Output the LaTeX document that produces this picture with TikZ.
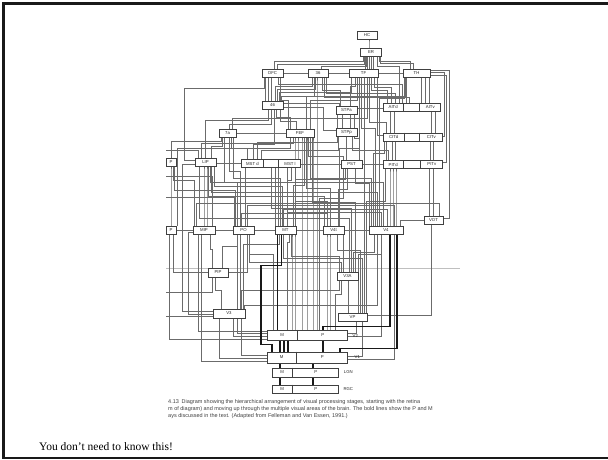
\documentclass[tikz,border=0pt]{standalone}
\usepackage{fontspec}
\setmainfont{Liberation Serif}
\setsansfont{Liberation Sans}
\usetikzlibrary{calc}
\pgfdeclarelayer{bg}
\pgfsetlayers{bg,main}
\newcommand\lnk[5]{\draw[cn] ($(#1.north)+(#3,0)$) |- ($(#2.south)+(#4,#5)$) -- ($(#2.south)+(#4,0)$);}
\newcommand\tbar[5]{\draw[cn] ($(#1.north)+(#3,0)$) |- ($(#2.north)+(#4,-#5)$) -- ($(#2.north)+(#4,0)$);}
\tikzset{
 box/.style={draw=black!75, fill=white, line width=0.6pt, minimum height=8pt, inner sep=0pt, font=\fontsize{4.3}{4.3}\selectfont\sffamily, text=black!85},
 lbl/.style={inner sep=0pt, font=\fontsize{4.3}{4.3}\selectfont\sffamily, text=black!85},
 cn/.style={draw=black!58, line width=0.55pt},
 bd/.style={draw=black!90, line width=1.4pt},
 dv/.style={draw=black!75, line width=0.6pt},
 captxt/.style={anchor=west, inner sep=0pt, font=\fontsize{5.5}{5.5}\selectfont\sffamily, text=black!75},
 frm/.style={draw=black!90, line width=3pt},
 scanline/.style={draw=black!25, line width=0.8pt}
}
\begin{document}
\begin{tikzpicture}[x=1pt,y=-1pt]
\useasboundingbox (0,0) rectangle (608,459);
\draw[frm] (608,3.5) -- (3.5,3.5) -- (3.5,458);
\draw[draw=black!90, line width=2.5pt] (2,458) -- (608,458);

% ---------- nodes ----------
\node[box,minimum width=20pt] (HC) at (367,35) {HC};
\node[box,minimum width=21pt] (ER) at (371,52) {ER};
\node[box,minimum width=21pt] (OFC) at (272.5,73.5) {OFC};
\node[box,minimum width=20pt] (A36) at (318,73.5) {36};
\node[box,minimum width=29pt] (TF) at (363.5,73.5) {TF};
\node[box,minimum width=27pt] (TH) at (416.5,73.5) {TH};
\node[box,minimum width=21pt] (A46) at (272.5,105) {46};
\node[box,minimum width=21pt] (STPa) at (346.5,110) {STPa};
\node[box,minimum width=57pt] (AIT) at (411.5,107) {};
\node[box,minimum width=17pt] (A7a) at (227.5,133.5) {7a};
\node[box,minimum width=28pt] (FEF) at (300,133.5) {FEF};
\node[box,minimum width=21pt] (STPp) at (346.5,132) {STPp};
\node[box,minimum width=59pt] (CIT) at (412.5,137) {};
\node[box,minimum width=10pt] (VIP) at (171,162) {P};
\node[box,minimum width=21pt] (LIP) at (205.5,162) {LIP};
\node[box,minimum width=59pt] (MST) at (271,163.5) {};
\node[box,minimum width=21pt] (PST) at (351.5,164.5) {PST};
\node[box,minimum width=59pt] (PIT) at (412.5,164.5) {};
\node[box,minimum width=19pt] (VOT) at (433.5,220) {VOT};
\node[box,minimum width=10pt] (DP) at (171,230) {P};
\node[box,minimum width=22pt] (MIP) at (204,230) {MIP};
\node[box,minimum width=21pt] (PO) at (243.5,230) {PO};
\node[box,minimum width=21pt] (MT) at (285.5,230) {MT};
\node[box,minimum width=21pt] (V4t) at (333.5,230) {V4t};
\node[box,minimum width=34pt] (V4) at (386,230) {V4};
\node[box,minimum width=20pt,minimum height=9pt] (PIP) at (218,272.5) {PIP};
\node[box,minimum width=21pt] (V3A) at (347.5,276) {V3A};
\node[box,minimum width=32pt,minimum height=9pt] (V3) at (229,313.5) {V3};
\node[box,minimum width=29pt] (VP) at (352.5,317) {VP};
\node[box,minimum width=80pt,minimum height=10pt] (V2) at (307,335) {};
\node[box,minimum width=80pt,minimum height=11pt] (V1) at (307,357.5) {};
\node[box,minimum width=66pt,minimum height=9pt] (LGN) at (305,372.5) {};
\node[box,minimum width=66pt,minimum height=8pt] (RGC) at (305,389) {};

% dividers
\draw[dv] ($(MST.north west)+(22.5,0)$) -- ($(MST.south west)+(22.5,0)$);
\draw[dv] ($(MST.north west)+(37.5,0)$) -- ($(MST.south west)+(37.5,0)$);
\draw[dv] ($(AIT.north west)+(21,0)$) -- ($(AIT.south west)+(21,0)$);
\draw[dv] ($(AIT.north west)+(37,0)$) -- ($(AIT.south west)+(37,0)$);
\draw[dv] ($(CIT.north west)+(22,0)$) -- ($(CIT.south west)+(22,0)$);
\draw[dv] ($(CIT.north west)+(37,0)$) -- ($(CIT.south west)+(37,0)$);
\draw[dv] ($(PIT.north west)+(21,0)$) -- ($(PIT.south west)+(21,0)$);
\draw[dv] ($(PIT.north west)+(38,0)$) -- ($(PIT.south west)+(38,0)$);
\draw[dv] ($(V2.north west)+(31,0)$) -- ($(V2.south west)+(31,0)$);
\draw[dv] ($(V1.north west)+(30,0)$) -- ($(V1.south west)+(30,0)$);
\draw[dv] ($(LGN.north west)+(21,0)$) -- ($(LGN.south west)+(21,0)$);
\draw[dv] ($(RGC.north west)+(21,0)$) -- ($(RGC.south west)+(21,0)$);

% labels in split boxes
\node[lbl] (MSTd) at ($(MST.west)+(11.25,0)$) {MST d};
\node[lbl] (MSTl) at ($(MST.east)+(-10.75,0)$) {MST l};
\node[lbl] (AITd) at ($(AIT.west)+(10.5,0)$) {AITd};
\node[lbl] (AITv) at ($(AIT.east)+(-10,0)$) {AITv};
\node[lbl] (CITd) at ($(CIT.west)+(11,0)$) {CITd};
\node[lbl] (CITv) at ($(CIT.east)+(-11,0)$) {CITv};
\node[lbl] (PITd) at ($(PIT.west)+(10.5,0)$) {PITd};
\node[lbl] (PITv) at ($(PIT.east)+(-10.5,0)$) {PITv};
\node[lbl] (V2m) at ($(V2.west)+(15.5,0)$) {M};
\node[lbl] (V2p) at ($(V2.east)+(-24.5,0)$) {P};
\node[lbl] (V2l) at ($(V2.east)+(8,1)$) {V2};
\node[lbl] (V1m) at ($(V1.west)+(15,0)$) {M};
\node[lbl] (V1p) at ($(V1.east)+(-25,0)$) {P};
\node[lbl] (V1l) at ($(V1.east)+(10,0)$) {V1};
\node[lbl] (LGNm) at ($(LGN.west)+(10.5,0)$) {M};
\node[lbl] (LGNp) at ($(LGN.east)+(-22.5,0)$) {P};
\node[lbl] (LGNl) at ($(LGN.east)+(10,0)$) {LGN};
\node[lbl] (RGCm) at ($(RGC.west)+(10.5,0)$) {M};
\node[lbl] (RGCp) at ($(RGC.east)+(-22.5,0)$) {P};
\node[lbl] (RGCl) at ($(RGC.east)+(10,0)$) {RGC};

% left-edge free ends
\coordinate (L1) at (166,176);
\coordinate (L2) at (166,292);
\coordinate (L3) at (166,316);
\coordinate (L4) at (166,197);
\coordinate (L5) at (166,150);
\coordinate (S1) at (166,268.5);
\coordinate (S2) at (460,268.5);

% caption and note
\node[captxt] (c1) at (168,402) {4.13\enspace Diagram showing the hierarchical arrangement of visual processing stages, starting with the retina};
\node[captxt] (c2) at (168,409) {m of diagram) and moving up through the multiple visual areas of the brain. The bold lines show the P and M};
\node[captxt] (c3) at (168,416) {ays discussed in the text. (Adapted from Felleman and Van Essen, 1991.)};
\node[anchor=base west, inner sep=0pt, font=\fontsize{11.5}{12}\selectfont] (note) at (39,450) {You don’t need to know this!};

\begin{pgfonlayer}{bg}
\draw[scanline] (S1) -- (S2);
% top
\lnk{ER}{HC}{-2}{2}{4}
\lnk{TF}{ER}{2}{-5.5}{3}\lnk{TF}{ER}{4}{-3.5}{3}\lnk{TF}{ER}{6}{-1.5}{3}\lnk{TF}{ER}{8}{0.5}{3}\lnk{TF}{ER}{10}{2.5}{3}
\lnk{OFC}{ER}{2}{-8}{5}
\lnk{OFC}{ER}{5}{-6.5}{8}
\lnk{A36}{ER}{3}{-4.5}{10}
\lnk{TH}{ER}{-6}{8}{5}
\lnk{TH}{ER}{-3}{9.5}{7}
\draw[cn] (OFC.east) -- (A36.west);
\draw[cn] (A36.east) -- (TF.west);
\draw[cn] (TF.east) -- (TH.west);
% 46
\lnk{A46}{OFC}{-7}{-7}{3}\lnk{A46}{OFC}{-4}{-4}{3}\lnk{A46}{OFC}{-1}{-1}{3}
\lnk{A46}{A36}{3}{-6}{8}
\lnk{A46}{A36}{5}{-3}{11}
\lnk{A46}{TF}{7}{-12}{14}
\lnk{A46}{TH}{9}{-11}{18}
% LIP, 7a, left
\lnk{LIP}{A46}{0}{-4}{11}
\lnk{A7a}{A46}{2}{-1}{15}
\lnk{A7a}{TF}{5}{4}{40}
\lnk{LIP}{A7a}{6}{-5}{8}
\lnk{VIP}{A7a}{0}{-6}{3}
\draw[cn] ($(LIP.west)+(0,-2)$) -- ++(-10,0) |- ($(OFC.south)+(-8,10)$) -- ($(OFC.south)+(-8,0)$);
\lnk{DP}{FEF}{6}{-10}{10}
\lnk{LIP}{FEF}{-4}{-7}{5}
% MST
\lnk{MST}{A7a}{-24}{4}{10}
\lnk{MST}{FEF}{24}{-5}{5}
\lnk{MST}{FEF}{27}{-2}{5}
\lnk{MST}{STPp}{-10}{-8}{14}
\lnk{MST}{A46}{-18}{2}{35}
\lnk{MST}{STPa}{-14}{-9}{28}
\draw[cn] ($(LIP.east)+(0,1.5)$) -- (MST.west);
\draw[cn] ($(MST.east)+(0,1)$) -- (PST.west);
\draw[cn] (PST.east) -- (PIT.west);
% PST
\lnk{PST}{STPp}{-5}{0}{10}
\lnk{PST}{FEF}{-8}{8}{18}
\lnk{PST}{STPa}{8}{8}{24}
% PIT CIT AIT
\lnk{PIT}{CIT}{-20}{-20}{5}\lnk{PIT}{CIT}{-17}{-17}{5}\lnk{PIT}{CIT}{18}{18}{5}\lnk{PIT}{CIT}{21}{21}{5}
\lnk{PIT}{TF}{-26}{6}{44}
\lnk{PIT}{STPp}{-24}{6}{14}
\draw[cn] ($(PIT.east)+(0,-2)$) -- ++(4,0) |- ($(TH.east)+(0,2)$);
\draw[cn] ($(CIT.east)+(0,-1)$) -- ++(2,0) |- ($(TH.east)+(0,-1)$);
\draw[cn] ($(VOT.east)+(0,-2)$) -- ++(6,0) |- ($(TH.east)+(0,-3)$);
\lnk{CIT}{AIT}{-22}{-21}{5}\lnk{CIT}{AIT}{-18}{-17}{5}\lnk{CIT}{AIT}{19}{20}{5}\lnk{CIT}{AIT}{23}{24}{5}
\draw[cn] ($(CIT.west)+(0,-2)$) -| ($(TF.south)+(14,0)$);
\lnk{AIT}{TF}{-24}{8}{12}
\lnk{AIT}{TF}{-20}{11}{9}
\lnk{AIT}{TH}{-5}{-10}{5}
\lnk{AIT}{TH}{10}{5}{5}\lnk{AIT}{TH}{14}{9}{5}\lnk{AIT}{TH}{18}{13}{5}
\lnk{AIT}{A36}{-16}{8}{15}
\lnk{AIT}{A36}{-2}{6}{19}
\lnk{AIT}{OFC}{-9}{6}{6}
\lnk{AIT}{ER}{-12}{6}{10}
\draw[cn] ($(STPa.east)+(0,-2)$) -| ($(AIT.south)+(-25,0)$);
% STPa STPp
\lnk{STPa}{A36}{-6}{4}{12}
\lnk{STPa}{TF}{4}{-8}{8}
\draw[cn] ($(A46.east)+(0,-2)$) -| ($(STPa.north)+(-7,0)$);
\lnk{STPp}{STPa}{-4}{-4}{5}\lnk{STPp}{STPa}{4}{4}{5}
\draw[cn] ($(STPp.west)+(0,-2)$) -- ++(-12,0) |- ($(A46.east)+(0,2)$);
% FEF
\lnk{FEF}{A46}{-10}{4}{8}
\lnk{FEF}{A46}{-4}{8}{12}
\lnk{FEF}{A36}{6}{-4}{18}
\lnk{FEF}{OFC}{-12}{8}{22}
\lnk{FEF}{TF}{10}{-6}{22}
\draw[cn] (A7a.east) -- (FEF.west);
% VOT
\lnk{VOT}{PIT}{-4}{17}{5}\lnk{VOT}{PIT}{0}{21}{5}
\draw[cn] (VOT.west) -| ($(V4.north)+(14,0)$);
\draw[cn] ($(VOT.south)+(-2,0)$) |- ($(VP.east)+(0,-2)$);
% V4
\lnk{V4}{PIT}{4}{-22.5}{5}\lnk{V4}{PIT}{7}{-19.5}{5}\lnk{V4}{PIT}{10}{-16.5}{5}
\lnk{V4}{PST}{-16.5}{4}{14}
\lnk{V4}{FEF}{-14.5}{10}{40}
\lnk{V4}{CIT}{-12.5}{-28}{12}
\lnk{V4}{TF}{-10.5}{-2}{50}
\lnk{V4}{LIP}{-8.5}{6}{26}
\lnk{V4}{TH}{-6.5}{-12}{20}
\lnk{V4}{MST}{-4.5}{16}{44}
\lnk{V4}{A7a}{-2.5}{-3}{44}
% V4t
\lnk{V4t}{MST}{-6}{24}{33}
\lnk{V4t}{FEF}{-3}{6}{50}
\lnk{V4t}{PST}{5}{-4}{20}
\lnk{V4t}{LIP}{-9}{3}{30}
\lnk{V4t}{TF}{6}{-4}{70}
\draw[cn] (MT.east) -- (V4t.west);
\draw[cn] (V4t.east) -- (V4.west);
% MT
\lnk{MT}{MST}{-10}{4.5}{5}\lnk{MT}{MST}{-7}{7.5}{5}
\lnk{MT}{MST}{2}{20}{12}
\lnk{MT}{FEF}{7.5}{4}{47}
\lnk{MT}{LIP}{-3}{9}{20}
\lnk{MT}{A7a}{-5}{6}{40}
\lnk{MT}{PST}{9.5}{-6}{10}
\draw[cn] (PO.east) -- (MT.west);
\draw[cn] (MIP.east) -- (PO.west);
\draw[cn] (DP.east) -- (MIP.west);
% PO
\lnk{PO}{LIP}{-6}{5}{16}
\lnk{PO}{MST}{2}{-25.5}{5}
\lnk{PO}{A7a}{-3}{2}{33}
\lnk{PO}{VIP}{-8}{3}{24}
% MIP
\lnk{MIP}{LIP}{0}{-1.5}{5}\lnk{MIP}{LIP}{3}{1.5}{5}
\lnk{MIP}{VIP}{-10}{2}{14}
\lnk{DP}{VIP}{0}{0}{5}
% bars
\tbar{MIP}{VOT}{-8}{6}{12}
\tbar{PO}{V4}{4}{8}{20}
\tbar{MT}{V4}{-2}{1}{16}
\tbar{PO}{V4t}{-2}{-6}{12}
% left edge
\draw[cn] (L1) -| ($(MIP.north)+(8,0)$);
\draw[cn] (L4) -| ($(PO.north)+(-9,0)$);
\draw[cn] (L5) -| ($(LIP.north)+(-7,0)$);
\draw[cn] (L2) -| ($(PIP.south)+(-6,0)$);
\draw[cn] (L3) -- ($(V3.west)+(0,2.5)$);
\draw[cn] ($(DP.south)+(-2,0)$) |- ($(V2.west)+(0,4)$);
\draw[cn] ($(MIP.south)+(-6,0)$) |- ($(V2.west)+(0,-4)$);
\draw[cn] ($(MIP.south)+(-3,0)$) |- ($(V1.west)+(0,4)$);
% PIP
\lnk{PIP}{MIP}{-6}{6}{15}
\lnk{PIP}{PO}{4}{-6}{12}
\draw[cn] (PIP.west) -| ($(DP.south)+(2,0)$);
\draw[cn] (PIP.east) -| ($(PO.south)+(4,0)$);
% V3A
\lnk{V3A}{V4}{6}{-12}{18}
\lnk{V3A}{V4t}{-4}{10}{10}
\lnk{V3A}{MT}{-8}{6}{22}
\lnk{V3A}{PO}{-6}{6}{28}
\lnk{V3A}{LIP}{2}{-6}{52}
\lnk{V3A}{MST}{4}{0}{40}
\lnk{V3A}{FEF}{8}{12}{64}
% VP
\lnk{VP}{V4}{6}{-5}{20}
\lnk{VP}{V4t}{8}{4}{16}
\lnk{VP}{MT}{10}{-2}{24}
\lnk{VP}{TF}{12}{1}{5}
\lnk{VP}{PIT}{14}{-27}{32}
\lnk{VP}{V3A}{-4}{1}{5}
% V3
\lnk{V3}{PIP}{-8}{-3}{13}
\lnk{V3}{PO}{8.5}{-6}{5}\lnk{V3}{PO}{11.5}{-3}{5}
\lnk{V3}{MT}{14.5}{-6}{10}
\lnk{V3}{V4}{15.5}{-9}{71}
\lnk{V3}{V3A}{12.5}{-8}{10}
\draw[cn] ($(V3.west)+(0,-2)$) -- ++(-30,0) |- ($(LIP.west)+(0,2)$);
\draw[cn] ($(V3.west)+(0,1)$) -- ++(-24,0) |- ($(MIP.west)+(0,2)$);
% V2
\draw[cn] ($(V2.west)+(0,-2)$) -| ($(V3.south)+(8,0)$);
\draw[cn] ($(V2.west)+(0,1.5)$) -| ($(V3.south)+(4,0)$);
\draw[cn] ($(V2.east)+(0,-2)$) -| ($(VP.south)+(4,0)$);
\draw[cn] ($(V2.east)+(0,1)$) -| ($(V4.south)+(-5,0)$);
\lnk{V2}{V3A}{28}{-6}{14}
\lnk{V2}{FEF}{6}{13}{5}
\lnk{V2}{FEF}{-5}{2}{5}
\lnk{V2}{FEF}{0}{7}{5}
\lnk{V2}{A36}{10}{-1}{5}
\lnk{V2}{PST}{12}{-8}{29}
\lnk{V2}{MT}{-20}{4}{8}
\lnk{V2}{MT}{-15}{6.5}{5}
\lnk{V2}{MT}{-12}{9.5}{5}
\lnk{V2}{V4t}{20}{-6.5}{5}
\lnk{V2}{V4t}{23}{-3.5}{5}
\lnk{V2}{PO}{-34}{6}{20}
% V1 thin
\draw[cn] ($(V1.west)+(0,-2)$) -| ($(V3.south)+(12,0)$);
\draw[cn] ($(V1.west)+(0,1)$) -| ($(V3.south)+(-10,0)$);
\draw[cn] ($(V1.east)+(0,-1)$) -| ($(VP.south)+(10,0)$);
\draw[cn] ($(V1.east)+(0,2)$) -| ($(V4.south)+(8,0)$);
% bold M and P pathways
\draw[bd] ($(V4.south)+(4,0)$) |- ($(V2.north)+(16,-3)$) -- ($(V2.north)+(16,0)$);
\draw[bd] ($(V4.south)+(11,0)$) |- ($(V1.north)+(33,-3)$) -- ($(V1.north)+(33,0)$);
\draw[bd] ($(V2.north)+(-29.5,0)$) -- ($(MT.south)+(-8,0)$);
\draw[bd] ($(V1.north)+(-35,0)$) -- ++(0,-7) -| ++(-11,-79) -| ($(MT.south)+(-4,0)$);
\draw[bd] ($(V1.north)+(-27,0)$) -- ($(V2.south)+(-27,0)$);
\draw[bd] ($(V1.north)+(-23,0)$) -- ($(V2.south)+(-23,0)$);
\draw[bd] ($(V1.north)+(-19,0)$) -- ($(V2.south)+(-19,0)$);
\draw[bd] ($(V1.north)+(16,0)$) -- ($(V2.south)+(16,0)$);
\draw[bd] ($(LGN.north)+(-25,0)$) -- ($(V1.south)+(-27,0)$);
\draw[bd] ($(LGN.north)+(8,0)$) -- ($(V1.south)+(6,0)$);
\draw[bd] ($(RGC.north)+(-25,0)$) -- ($(LGN.south)+(-25,0)$);
\draw[bd] ($(RGC.north)+(8,0)$) -- ($(LGN.south)+(8,0)$);
\end{pgfonlayer}
\end{tikzpicture}
\end{document}
